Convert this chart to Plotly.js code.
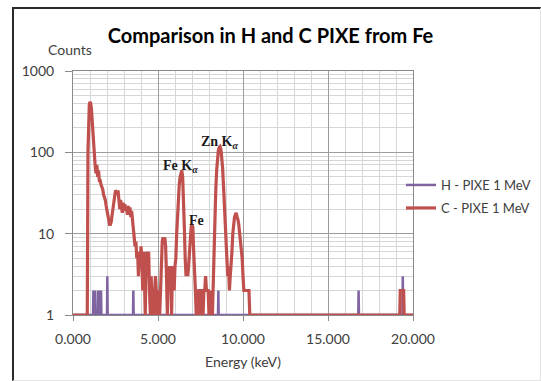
<!DOCTYPE html>
<html>
<head>
<meta charset="utf-8">
<script src="https://cdn.plot.ly/plotly-3.0.1.min.js"></script>
<style>
  html, body { margin: 0; padding: 0; background: #ffffff; }
  #wrap { position: relative; width: 541px; height: 381px; }
  #chart { position: absolute; left: 0; top: 0; width: 541px; height: 381px; }
  #frame { position: absolute; left: 12px; top: 7px; width: 526px; height: 371px;
           border-left: 2px solid #2a2a2a; border-top: 2px solid #2a2a2a;
           border-right: 1px solid #e4e4e4; border-bottom: 1px solid #e4e4e4;
           pointer-events: none; }
</style>
</head>
<body>
<div id="wrap">
  <div id="chart"></div>
  <div id="frame"></div>
</div>
<script>
// C - PIXE 1 MeV spectrum (energy keV, counts)
const cEnergy = [0.00,0.84,0.88,0.92,0.96,1.00,1.04,1.08,1.12,1.16,1.20,1.25,1.30,1.35,1.40,1.45,1.50,1.55,1.60,1.65,
  1.70,1.75,1.80,1.85,1.90,1.95,2.00,2.05,2.10,2.15,2.20,2.25,2.30,2.35,2.40,2.45,2.50,2.55,2.60,2.65,
  2.70,2.75,2.80,2.85,2.90,2.95,3.00,3.05,3.10,3.15,3.20,3.25,3.30,3.35,3.40,3.45,3.50,3.55,3.60,3.65,
  3.70,3.75,3.80,3.85,3.90,3.95,4.00,4.05,4.10,4.15,4.20,4.25,4.30,4.35,4.40,4.45,4.50,4.55,4.60,4.65,
  4.70,4.75,4.80,4.85,4.90,4.95,5.00,5.05,5.10,5.15,5.20,5.25,5.30,5.35,5.40,5.45,5.50,5.55,5.60,5.65,
  5.70,5.75,5.80,5.85,5.90,5.95,6.00,6.05,6.10,6.15,6.20,6.25,6.30,6.35,6.40,6.45,6.50,6.55,6.60,6.65,
  6.70,6.75,6.80,6.85,6.90,6.95,7.00,7.05,7.10,7.15,7.20,7.25,7.30,7.35,7.40,7.45,7.50,7.55,7.60,7.65,
  7.70,7.75,7.80,7.85,7.90,7.95,8.00,8.05,8.10,8.15,8.20,8.25,8.30,8.35,8.40,8.45,8.50,8.55,8.60,8.65,
  8.70,8.75,8.80,8.85,8.90,8.95,9.00,9.05,9.10,9.15,9.20,9.25,9.30,9.35,9.40,9.45,9.50,9.55,9.60,9.65,
  9.70,9.75,9.80,9.85,9.90,9.95,10.00,10.05,10.10,10.15,10.20,10.25,10.30,10.35,10.40,
  19.22,19.25,19.30,19.35,19.40,19.45,19.48,20.00];
const cCounts = [1,1,100,300,390,415,400,350,250,160,110,90,70,55,70,50,60,45,45,40,
  38,35,30,28,26,22,19,16,14,13,13,14,17,20,26,30,34,33,30,34,
  28,20,26,22,18,24,20,23,19,21,17,22,18,21,16,19,14,12,10,7,
  8,5,6,3,5,4,7,5,2,6,3,1,4,6,5,6,2,1,3,1,
  2,1,2,3,2,1,1,2,1,2,5,8,9,8,9,7,3,1,4,2,
  4,3,1,4,3,2,4,5,10,18,30,40,50,58,60,50,30,12,5,3,
  4,3,4,6,9,12,13,12,6,4,2,1,2,1,2,2,1,2,2,1,
  2,2,3,2,2,2,1,1,2,1,1,3,8,18,35,60,85,105,115,118,
  110,90,65,40,22,12,6,4,3,4,2,3,4,6,10,14,16,17,18,16,
  15,13,10,7,6,5,3,2,2,2,2,2,2,2,1,
  1,2,2,2,2,2,1,1];

// H - PIXE 1 MeV spectrum (energy keV, counts)
const hEnergy = [0.00,1.18,1.20,1.22,1.27,1.29,1.31,1.45,1.47,1.49,1.53,1.55,1.57,1.63,1.65,1.67,
  2.00,2.02,2.04,3.53,3.55,3.57,8.53,8.55,8.57,16.78,16.80,16.82,19.38,19.40,19.42,20.00];
const hCounts = [1,1,2,1,1,2,1,1,2,1,1,2,1,1,2,1,
  1,3,1,1,2,1,1,2,1,1,2,1,1,3,1,1];

const seriesNames = ['H - PIXE 1 MeV', 'C - PIXE 1 MeV'];
const xTickVals = [0, 5, 10, 15, 20];
const yTickVals = [1, 10, 100, 1000];
const peakLabels = ['Zn K<sub><i>α</i></sub>', 'Fe K<sub><i>α</i></sub>', 'Fe'];
const peakLabelE = [8.65, 6.35, 7.24];
const peakLabelY = [2.12, 1.83, 1.166];

const purple = '#8064A2';
const red = '#C0504D';
const txt = '#404040';

const traces = [
  { x: hEnergy, y: hCounts, type: 'scatter', mode: 'lines', name: seriesNames[0],
    line: { color: purple, width: 2.5 }, cliponaxis: false, legend: 'legend' },
  { x: cEnergy, y: cCounts, type: 'scatter', mode: 'lines', name: seriesNames[1],
    line: { color: red, width: 3.2 }, cliponaxis: false, legend: 'legend2' }
];

const annotations = peakLabels.map((t, i) => ({
  text: '<b>' + t + '</b>', x: peakLabelE[i], y: peakLabelY[i], xref: 'x', yref: 'y',
  xanchor: 'center', yanchor: 'middle',
  showarrow: false, font: { family: 'Liberation Serif, serif', size: 14, color: '#1a1a1a' }
}));
annotations.push({
  text: 'Counts', xref: 'paper', yref: 'paper', x: (70 - 73) / 340, y: (315 - 49) / 244,
  xanchor: 'center', yanchor: 'middle', showarrow: false,
  font: { family: 'Lato, sans-serif', size: 14, color: txt }
});

const layout = {
  width: 541, height: 381,
  margin: { l: 73, r: 128, t: 71, b: 66, pad: 0, autoexpand: false },
  paper_bgcolor: 'rgba(0,0,0,0)', plot_bgcolor: '#ffffff',
  font: { family: 'Lato, sans-serif', color: txt },
  title: { text: '<b>Comparison in H and C PIXE from Fe</b>', xref: 'container', x: 0.5,
           yref: 'container', y: 1 - 36 / 381, yanchor: 'middle',
           font: { family: 'Lato, sans-serif', size: 20, color: '#000000' } },
  xaxis: {
    range: [0, 20], tickvals: xTickVals, tickformat: '.3f',
    showgrid: true, gridcolor: '#9c9c9c', gridwidth: 1,
    minor: { dtick: 1, tick0: 0, showgrid: true, gridcolor: '#d6d6d6', gridwidth: 1 },
    ticks: 'outside', ticklen: 5, tickcolor: '#8a8a8a',
    showline: true, linecolor: '#8a8a8a', linewidth: 1, mirror: true, zeroline: false,
    tickfont: { size: 14, color: txt }, ticklabelstandoff: 6,
    title: { text: 'Energy (keV)', font: { size: 14, color: txt }, standoff: 11 }
  },
  yaxis: {
    type: 'log', range: [0, 3], tickvals: yTickVals, exponentformat: 'none',
    showgrid: true, gridcolor: '#9c9c9c', gridwidth: 1,
    minor: { dtick: 'D1', showgrid: true, gridcolor: '#d6d6d6', gridwidth: 1 },
    ticks: 'outside', ticklen: 7, tickcolor: '#8a8a8a',
    showline: true, linecolor: '#8a8a8a', linewidth: 1, mirror: true, zeroline: false,
    tickfont: { size: 14, color: txt }, ticklabelstandoff: 8
  },
  showlegend: true,
  legend: { x: (401 - 73) / 340, xanchor: 'left', y: (315 - 185) / 244, yanchor: 'middle',
            bgcolor: 'rgba(0,0,0,0)', font: { size: 13, color: txt }, itemwidth: 30 },
  legend2: { x: (401 - 73) / 340, xanchor: 'left', y: (315 - 208) / 244, yanchor: 'middle',
             bgcolor: 'rgba(0,0,0,0)', font: { size: 13, color: txt }, itemwidth: 30 },
  annotations: annotations
};

Plotly.newPlot('chart', traces, layout, { displayModeBar: false, staticPlot: true });
</script>
</body>
</html>
